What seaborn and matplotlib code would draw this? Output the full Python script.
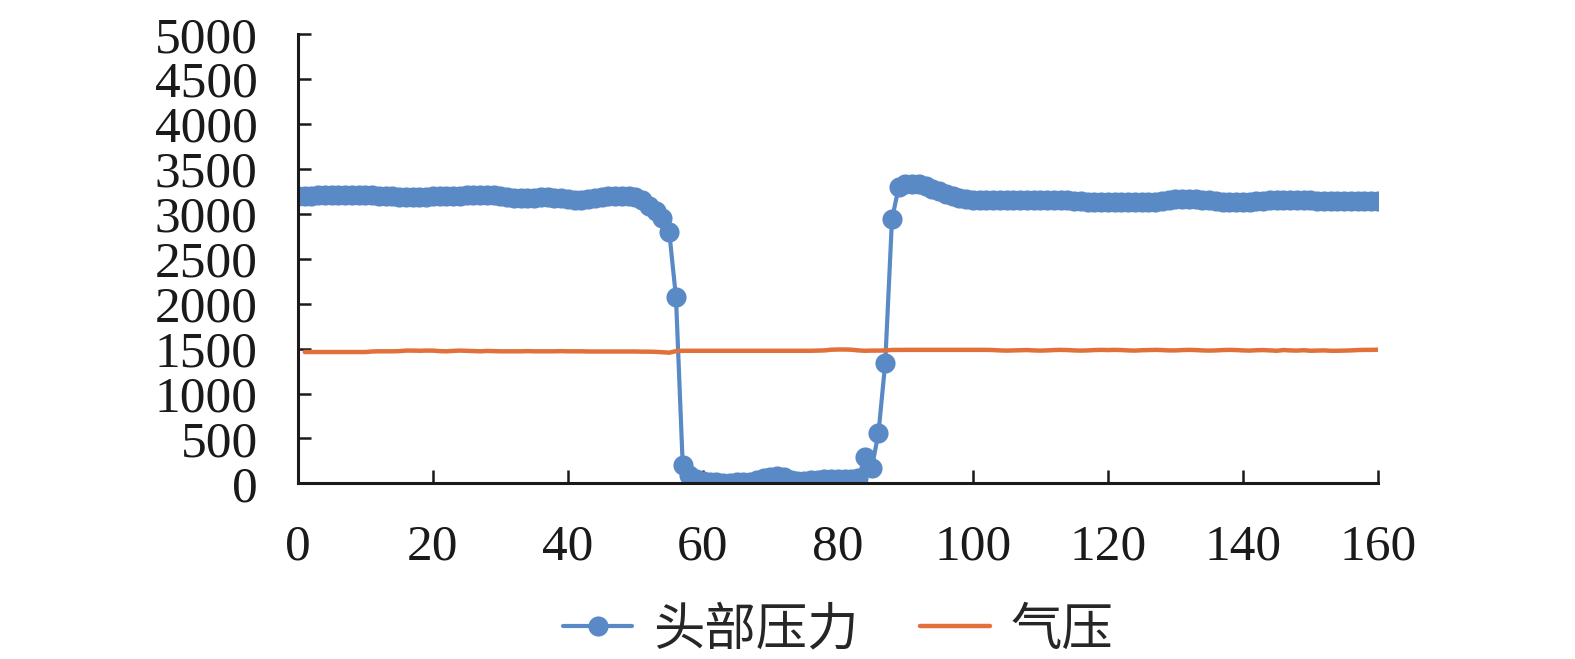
import numpy as np
import pandas as pd
import matplotlib
matplotlib.use("Agg")
import matplotlib.pyplot as plt
import seaborn as sns

# 数据
head_x = list(range(0, 161))
head_p = [
    3200, 3205, 3205, 3210, 3210, 3215, 3215, 3215, 3215, 3215,
    3210, 3210, 3205, 3200, 3195, 3190, 3185, 3185, 3185, 3190,
    3195, 3195, 3200, 3200, 3205, 3210, 3215, 3215, 3215, 3210,
    3200, 3190, 3180, 3175, 3175, 3180, 3185, 3185, 3180, 3175,
    3165, 3160, 3160, 3165, 3175, 3185, 3195, 3200, 3205, 3200,
    3185, 3150, 3090, 3030, 2960, 2800, 2070, 200, 90, 45,
    25, 15, 10, 5, 5, 10, 15, 20, 35, 55,
    75, 80, 65, 40, 30, 30, 35, 40, 45, 45,
    45, 45, 50, 60, 290, 170, 560, 1340, 2940, 3300,
    3330, 3335, 3330, 3310, 3280, 3250, 3225, 3200, 3180, 3165,
    3155, 3155, 3155, 3160, 3160, 3160, 3160, 3160, 3160, 3160,
    3160, 3160, 3160, 3155, 3150, 3145, 3140, 3135, 3130, 3130,
    3130, 3130, 3130, 3130, 3130, 3130, 3130, 3135, 3145, 3155,
    3165, 3170, 3170, 3165, 3160, 3150, 3140, 3135, 3135, 3135,
    3135, 3135, 3140, 3145, 3150, 3155, 3160, 3160, 3160, 3155,
    3150, 3145, 3140, 3140, 3140, 3140, 3140, 3140, 3140, 3140,
    3140,
]
air_x = list(range(1, 161))
air_p = [
    1462, 1462, 1462, 1462, 1462, 1462, 1462, 1462, 1462, 1462,
    1468, 1470, 1470, 1470, 1472, 1478, 1478, 1476, 1478, 1478,
    1472, 1470, 1475, 1478, 1475, 1472, 1470, 1474, 1472, 1470,
    1470, 1470, 1470, 1472, 1470, 1470, 1470, 1470, 1472, 1470,
    1470, 1470, 1468, 1468, 1468, 1468, 1468, 1468, 1468, 1468,
    1466, 1466, 1464, 1460, 1455, 1472, 1476, 1476, 1476, 1476,
    1476, 1476, 1476, 1476, 1476, 1476, 1476, 1476, 1476, 1476,
    1476, 1476, 1476, 1476, 1476, 1476, 1478, 1480, 1488, 1490,
    1490, 1488, 1480, 1476, 1478, 1478, 1480, 1485, 1486, 1486,
    1486, 1486, 1486, 1486, 1486, 1486, 1486, 1486, 1486, 1486,
    1486, 1486, 1484, 1480, 1478, 1480, 1482, 1484, 1480, 1478,
    1480, 1484, 1486, 1484, 1480, 1478, 1480, 1484, 1486, 1484,
    1486, 1484, 1480, 1478, 1482, 1484, 1486, 1484, 1480, 1480,
    1484, 1486, 1484, 1480, 1478, 1480, 1484, 1486, 1484, 1480,
    1478, 1482, 1484, 1480, 1476, 1484, 1480, 1478, 1482, 1476,
    1478, 1480, 1476, 1476, 1478, 1480, 1484, 1486, 1486, 1488,
]
labels = ["头部压力", "气压"]
x_ticks = [0, 20, 40, 60, 80, 100, 120, 140, 160]
y_ticks = [0, 500, 1000, 1500, 2000, 2500, 3000, 3500, 4000, 4500, 5000]

df_head = pd.DataFrame({"t": head_x, "p": head_p})
df_air = pd.DataFrame({"t": air_x, "p": air_p})

sns.set_theme(style="ticks")
plt.rcParams["font.family"] = ["Liberation Serif", "Noto Sans CJK SC", "DejaVu Sans"]

fig = plt.figure(figsize=(15.75, 6.59), dpi=100)
ax = fig.add_axes([0.1892, 0.2666, 0.6857, 0.6813])

sns.lineplot(data=df_head, x="t", y="p", ax=ax, color="#5A8AC6", linewidth=3,
             marker="o", markersize=14.5, markeredgewidth=0, label=labels[0])
sns.lineplot(data=df_air, x="t", y="p", ax=ax, color="#E2703A", linewidth=3.2,
             label=labels[1])

ax.set_xlim(0, 160)
ax.set_ylim(0, 5000)
ax.set_xticks(x_ticks)
ax.set_yticks(y_ticks)
ax.set_xlabel("")
ax.set_ylabel("")
sns.despine(ax=ax)
for s in ["left", "bottom"]:
    ax.spines[s].set_linewidth(2.2)
    ax.spines[s].set_color("#1a1a1a")
ax.tick_params(axis="both", direction="in", length=9.5, width=1.8, color="#1a1a1a",
               labelsize=37, labelcolor="#1a1a1a")
ax.tick_params(axis="y", pad=29)
ax.tick_params(axis="x", pad=29)

leg = ax.legend(loc="center", bbox_to_anchor=(0.5, -0.326), ncol=2, frameon=False,
                prop={"family": ["Noto Sans CJK SC"], "size": 37},
                handlelength=1.35, handletextpad=0.4, columnspacing=1.2)

fig.savefig("out.png", dpi=100)
